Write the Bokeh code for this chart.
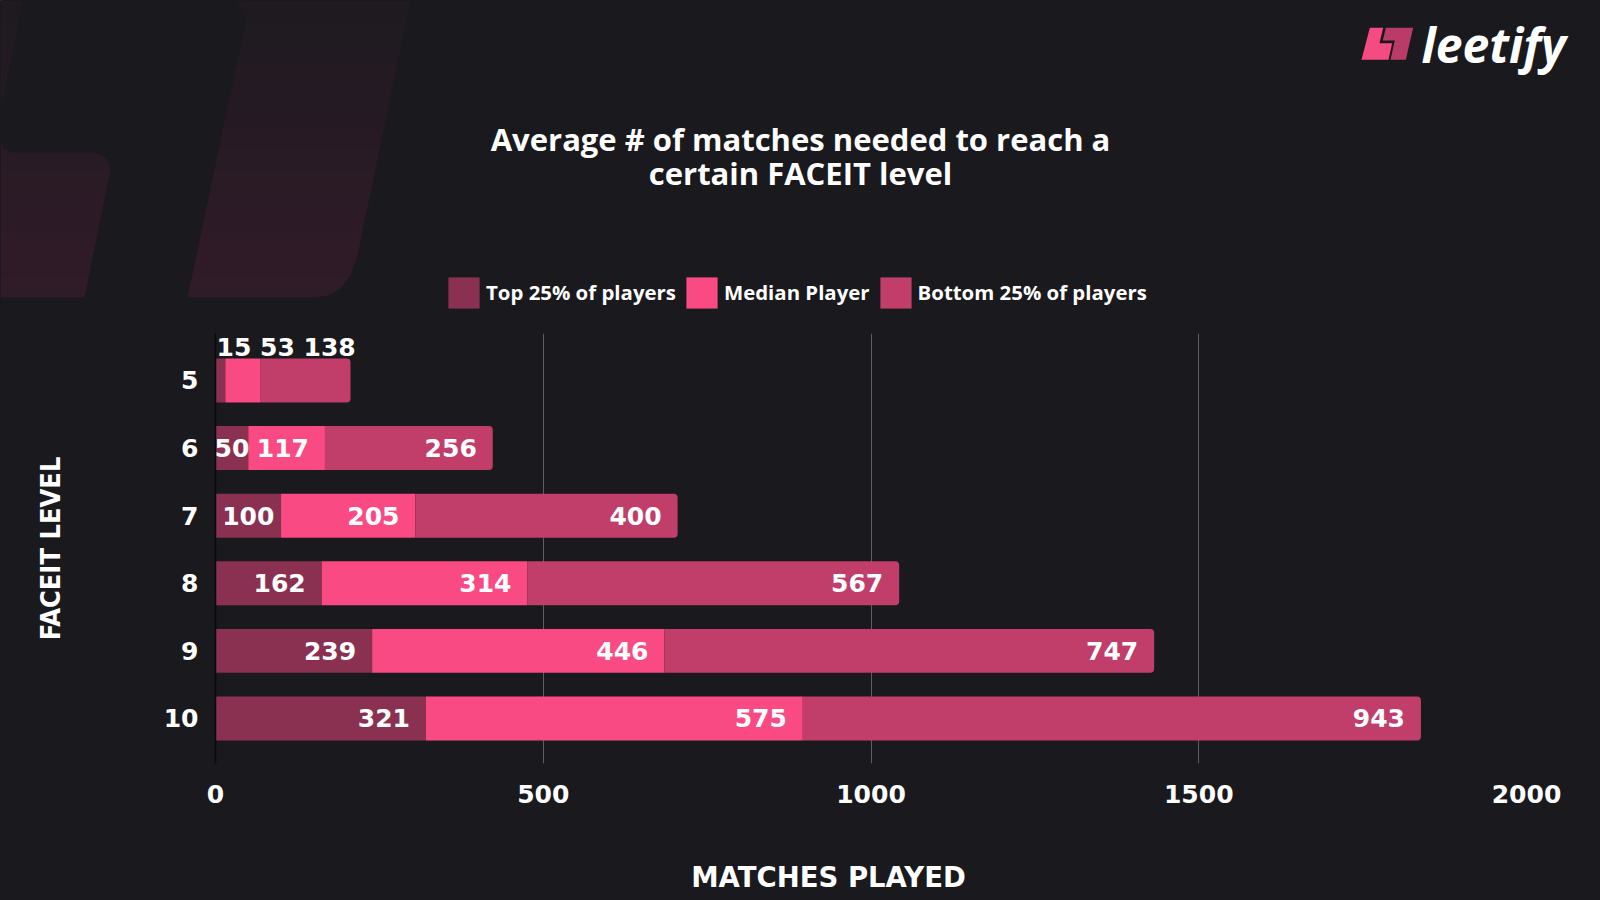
import numpy as np
from bokeh.plotting import figure
from bokeh.layouts import column
from bokeh.models import ColumnDataSource, Range1d, FixedTicker, Legend, LegendItem
from bokeh.core.properties import value
from bokeh.embed import file_html
from bokeh.resources import INLINE

# ---------------- data ----------------
levels = [5, 6, 7, 8, 9, 10]
top25 = [15, 50, 100, 162, 239, 321]
median = [53, 117, 205, 314, 446, 575]
bottom25 = [138, 256, 400, 567, 747, 943]
series_names = ["Top 25% of players", "Median Player", "Bottom 25% of players"]
x_ticks = [0, 500, 1000, 1500, 2000]
title_lines = ["Average # of matches needed to reach a", "certain FACEIT level"]
x_title = "MATCHES PLAYED"
y_title = "FACEIT LEVEL"
brand = "leetify"

# ---------------- style ----------------
series_colors = ["#8a3152", "#f94a84", "#c13d6a"]
BG = "#1a191e"
W = 1600
TOP_H = 320                 # header strip
FOOT_H = 50                 # footer strip (x-axis title)
MAIN_H = 900 - TOP_H - FOOT_H
FL, FR, FT, FB = 215, 1526, 333, 763   # chart frame edges in page pixels
TITLE_FONT = "Open Sans"
NUM_FONT = "DejaVu Sans"
NARROW_FONT = "'DejaVu Sans Condensed', 'Liberation Sans', sans-serif"


def strip_figure(h, y0):
    f = figure(width=W, height=h, output_backend="svg", toolbar_location=None,
               x_range=Range1d(0, W), y_range=Range1d(y0 + h, y0),
               x_axis_type=None, y_axis_type=None, title_location=None,
               min_border=0, background_fill_color=BG, border_fill_color=BG,
               outline_line_color=None, frame_align=False)
    f.grid.visible = False
    return f


# ======================= header =======================
top = strip_figure(TOP_H, 0)


def clip_band(poly, y0, y1):
    def clip(pts, keep, inter):
        out = []
        n = len(pts)
        for k in range(n):
            a, b = pts[k], pts[(k + 1) % n]
            ia, ib = keep(a), keep(b)
            if ia:
                out.append(a)
            if ia != ib:
                out.append(inter(a, b))
        return out

    def ix(a, b, yy):
        t = (yy - a[1]) / (b[1] - a[1])
        return (a[0] + t * (b[0] - a[0]), yy)

    pts = clip(poly, lambda q: q[1] >= y0, lambda a, b: ix(a, b, y0))
    if not pts:
        return []
    return clip(pts, lambda q: q[1] <= y1, lambda a, b: ix(a, b, y1))


# faint logo-shaped decoration, top-left (page pixels)
shapes = [
    [(0, 0), (23, 0), (0, 110)],
    [(0, 140), (4, 148), (12, 152), (92, 152), (102, 155), (108, 161), (110, 170), (84, 297), (0, 297)],
    [(233, 0), (410, 0), (357, 255), (350, 275), (340, 288), (328, 295), (315, 297),
     (187, 297), (245, 22), (242, 9)],
]
c_top = np.array([0x1e, 0x1a, 0x20])
c_bot = np.array([0x31, 0x1b, 0x29])
nb = 14
dxs, dys, dcs = [], [], []
for shp in shapes:
    for b in range(nb):
        y0 = 297 * b / nb
        y1 = 297 * (b + 1) / nb + 0.7
        pts = clip_band(shp, y0, y1)
        if len(pts) < 3:
            continue
        t = (b + 0.5) / nb
        col = c_top + (c_bot - c_top) * t
        dxs.append([q[0] for q in pts])
        dys.append([q[1] for q in pts])
        dcs.append("#%02x%02x%02x" % tuple(int(round(v)) for v in col))
top.patches(xs="xs", ys="ys", fill_color="c", line_color=None,
            source=ColumnDataSource(dict(xs=dxs, ys=dys, c=dcs)))


# brand mark
def logo_pts(poly):
    return [1340 + q[0] / 3 for q in poly], [10 + q[1] / 3 for q in poly]


logo_pink = [(88, 52), (128, 52), (117, 98), (155, 98), (144, 148), (63, 148)]
logo_dark = [(136, 52), (218, 52), (196, 148), (150, 148), (163, 90), (127, 90)]
lxs, lys = zip(*[logo_pts(pl) for pl in (logo_pink, logo_dark)])
top.patches(xs=list(lxs), ys=list(lys), fill_color=["#f64a83", "#b93c68"], line_color=None)
top.text(x=[1421], y=[44], text=[brand], text_font=value(TITLE_FONT),
         text_font_style="bold italic", text_font_size="48px", text_color="white",
         text_align="left", text_baseline="middle")

# title
top.text(x=[800, 800], y=[138, 172], text=title_lines, text_font=value(TITLE_FONT),
         text_font_style="bold", text_font_size="31px", text_color="white",
         text_align="center", text_baseline="middle")

# legend (swatch renderers sit outside the visible strip)
dummies = [top.hbar(y=[-1000], left=[0], right=[1], height=1, fill_color=c, line_color=None)
           for c in series_colors]
lg = Legend(items=[LegendItem(label=n, renderers=[r]) for n, r in zip(series_names, dummies)],
            orientation="horizontal", location=(444, TOP_H - 311.5),
            background_fill_alpha=0, border_line_alpha=0, padding=0, margin=0,
            spacing=6, label_standoff=3, glyph_width=39, glyph_height=39,
            label_text_color="white", label_text_font=TITLE_FONT,
            label_text_font_style="bold", label_text_font_size="20.4px")
top.add_layout(lg)

# ======================= main chart =======================
mt = FT - TOP_H
mb = FB - TOP_H
p = figure(width=W, height=MAIN_H, output_backend="svg", toolbar_location=None,
           x_range=Range1d(0, 2000), y_range=Range1d(10.666, 4.305), title_location=None,
           min_border_left=FL, min_border_right=W - FR,
           min_border_top=mt, min_border_bottom=MAIN_H - mb,
           background_fill_color=BG, border_fill_color=BG, outline_line_color=None,
           frame_align=False)

c1 = np.array(top25)
c2 = c1 + np.array(median)
c3 = c2 + np.array(bottom25)
src = ColumnDataSource(dict(level=levels, c0=[0] * len(levels), c1=c1, c2=c2, c3=c3))
bh = 0.65
p.hbar(y="level", left="c0", right="c1", height=bh, source=src, fill_color=series_colors[0],
       line_color=None)
p.hbar(y="level", left="c1", right="c2", height=bh, source=src, fill_color=series_colors[1],
       line_color=None)
p.hbar(y="level", left="c2", right="c3", height=bh, source=src, fill_color=series_colors[2],
       line_color=None, border_radius=(0, 4, 4, 0))

# value labels
px_per_unit = (FR - FL) / 2000
digit_w = 15.5
lx, ly, lt, la, lxo, lyo = [], [], [], [], [], []
for i, lv in enumerate(levels):
    vals = [top25[i], median[i], bottom25[i]]
    ends = np.cumsum(vals)
    fits = [v * px_per_unit >= len(str(v)) * digit_w for v in vals]
    if all(fits):
        for v, e in zip(vals, ends):
            roomy = v * px_per_unit >= len(str(v)) * digit_w + 20
            lx.append(float(e) if roomy else float(e - v / 2))
            la.append("right" if roomy else "center")
            lxo.append(-16 if roomy else 0)
            ly.append(lv)
            lt.append(str(v))
            lyo.append(0)
    else:
        lx.append(0.0)
        ly.append(lv)
        lt.append(" ".join(str(v) for v in vals))
        la.append("left")
        lxo.append(1)
        lyo.append(-33)
lsrc = ColumnDataSource(dict(x=lx, y=ly, text=lt, align=la, xo=lxo, yo=lyo))
p.text(x="x", y="y", text="text", text_align="align", x_offset="xo", y_offset="yo", source=lsrc,
       text_font=value(NUM_FONT), text_font_style="bold", text_font_size="25px",
       text_color="white", text_baseline="middle")

# axes
p.xaxis.ticker = FixedTicker(ticks=x_ticks)
p.xaxis.axis_line_color = None
p.xaxis.major_tick_line_color = None
p.xaxis.minor_tick_line_color = None
p.xaxis.major_label_text_font = NUM_FONT
p.xaxis.major_label_text_font_style = "bold"
p.xaxis.major_label_text_font_size = "25px"
p.xaxis.major_label_text_color = "white"
p.xaxis.major_label_standoff = 15

p.yaxis.ticker = FixedTicker(ticks=levels)
p.yaxis.axis_line_color = "#08080a"
p.yaxis.axis_line_width = 1.5
p.yaxis.major_tick_line_color = None
p.yaxis.minor_tick_line_color = None
p.yaxis.major_label_text_font = NUM_FONT
p.yaxis.major_label_text_font_style = "bold"
p.yaxis.major_label_text_font_size = "25px"
p.yaxis.major_label_text_color = "white"
p.yaxis.major_label_standoff = 11
p.yaxis.axis_label = y_title
p.yaxis.axis_label_text_font = NARROW_FONT
p.yaxis.axis_label_text_font_style = "bold"
p.yaxis.axis_label_text_font_size = "27px"
p.yaxis.axis_label_text_color = "white"
p.yaxis.axis_label_standoff = 95

p.xgrid.grid_line_color = "#5e5e62"
p.xgrid.grid_line_width = 1
p.ygrid.visible = False

# ======================= footer (x-axis title) =======================
foot = strip_figure(FOOT_H, 900 - FOOT_H)
foot.text(x=[828], y=[876], text=[x_title], text_font=value(NUM_FONT), text_font_style="bold",
          text_font_size="27.5px", text_color="white", text_align="center", text_baseline="middle")

layout = column(top, p, foot, spacing=0)
html = file_html(layout, INLINE)
html = html.replace("</head>", "<style>html,body{background:%s;}</style></head>" % BG, 1)
open("out.html", "w").write(html)
